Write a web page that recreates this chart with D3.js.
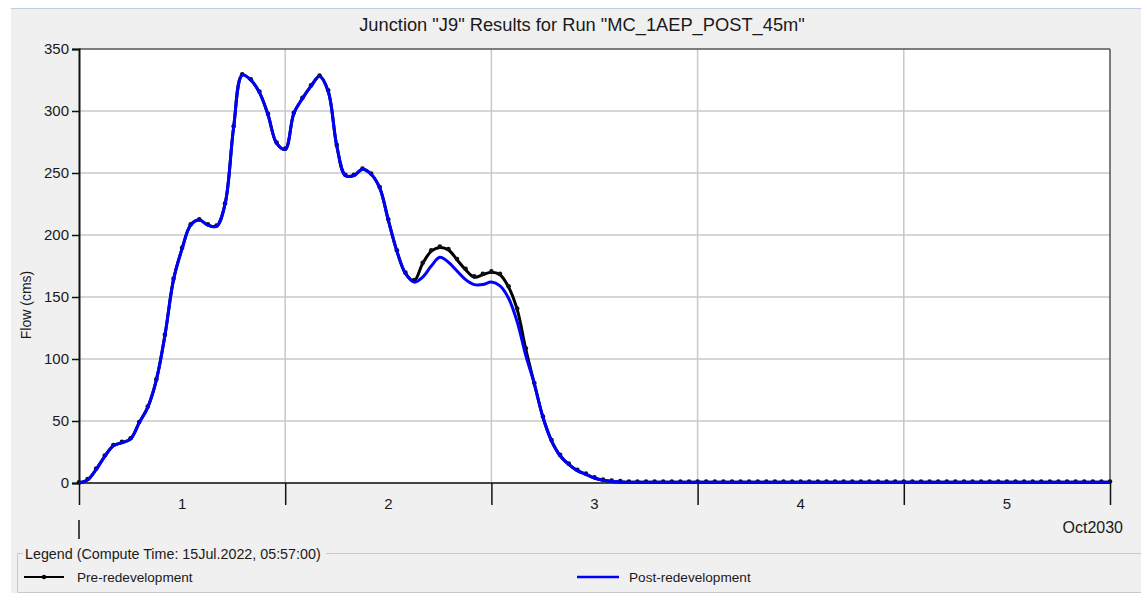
<!DOCTYPE html>
<html><head><meta charset="utf-8">
<script src="https://cdn.jsdelivr.net/npm/d3@7"></script>
<style>
body{margin:0;background:#fff}
svg{display:block}
text{font-family:"Liberation Sans",Arial,sans-serif;fill:#1a1a1a}
</style>
</head><body>
<svg id="c" width="1141" height="593"></svg>
<script>
// ---------- data ----------
const chartTitle = 'Junction "J9" Results for Run "MC_1AEP_POST_45m"';
const yLabel = "Flow (cms)";
const yTicks = [0, 50, 100, 150, 200, 250, 300, 350];
const dayLabels = ["1", "2", "3", "4", "5"];
const dayBoundaries = [0, 24, 48, 72, 96, 120]; // hours
const monthLabel = "Oct2030";
const legendTitle = "Legend (Compute Time: 15Jul.2022, 05:57:00)";
const seriesNames = ["Pre-redevelopment", "Post-redevelopment"];
// hourly flow values (cms), hour 0..120
const preFlow = [
  0, 2.5, 11, 21.5, 30, 32.5, 35.5, 48.5, 61, 83,
  119, 164, 189, 208, 212, 208, 207, 225, 287, 329,
  325, 315, 297, 274, 269, 298, 310, 320, 328, 316,
  272, 248, 248, 253, 249, 238, 212, 187, 169, 163,
  177, 187, 190, 188, 180, 172, 166, 168, 170, 168,
  158, 140, 108, 80, 53, 34, 22, 15, 10, 7,
  4, 2.2, 1.3, 0.9, 0.6, 0.6, 0.6, 0.6, 0.6, 0.6,
  0.6, 0.6, 0.6, 0.6, 0.6, 0.6, 0.6, 0.6, 0.6, 0.6,
  0.6, 0.6, 0.6, 0.6, 0.6, 0.6, 0.6, 0.6, 0.6, 0.6,
  0.6, 0.6, 0.6, 0.6, 0.6, 0.6, 0.6, 0.6, 0.6, 0.6,
  0.6, 0.6, 0.6, 0.6, 0.6, 0.6, 0.6, 0.6, 0.6, 0.6,
  0.6, 0.6, 0.6, 0.6, 0.6, 0.6, 0.6, 0.6, 0.6, 0.6,
  0.6
];
const postFlow = [
  0, 2.5, 11, 21.5, 30, 32.5, 35.5, 48.5, 61, 83,
  119, 164, 189, 208, 212, 208, 207, 225, 287, 329,
  325, 315, 297, 274, 269, 298, 310, 320, 328, 316,
  272, 248, 248, 253, 249, 238, 212, 187, 169, 162,
  166, 175, 182, 178, 171, 164, 160, 160, 162, 159,
  149, 130, 103, 80, 53, 34, 22, 15, 10, 7,
  4, 2.2, 1.3, 0.9, 0.6, 0.6, 0.6, 0.6, 0.6, 0.6,
  0.6, 0.6, 0.6, 0.6, 0.6, 0.6, 0.6, 0.6, 0.6, 0.6,
  0.6, 0.6, 0.6, 0.6, 0.6, 0.6, 0.6, 0.6, 0.6, 0.6,
  0.6, 0.6, 0.6, 0.6, 0.6, 0.6, 0.6, 0.6, 0.6, 0.6,
  0.6, 0.6, 0.6, 0.6, 0.6, 0.6, 0.6, 0.6, 0.6, 0.6,
  0.6, 0.6, 0.6, 0.6, 0.6, 0.6, 0.6, 0.6, 0.6, 0.6,
  0.6
];

// ---------- layout ----------
const svg = d3.select("#c");
const W = 1141, H = 593;
const plot = {left: 79, top: 49, right: 1110, bottom: 483};

svg.append("rect").attr("width", W).attr("height", H).attr("fill", "#ffffff");
svg.append("rect").attr("x", 11).attr("y", 8).attr("width", W - 11).attr("height", H - 8).attr("fill", "#f0f0f0");
svg.append("line").attr("x1", 11).attr("x2", W).attr("y1", 8.5).attr("y2", 8.5).attr("stroke", "#b9d1ea").attr("stroke-width", 1);

const x = d3.scaleLinear().domain([0, 120]).range([plot.left, plot.right]);
const y = d3.scaleLinear().domain([0, 350]).range([plot.bottom, plot.top]);

// plot background
svg.append("rect").attr("x", plot.left).attr("y", plot.top)
  .attr("width", plot.right - plot.left).attr("height", plot.bottom - plot.top).attr("fill", "#fff");

// grid
svg.append("g").selectAll("line").data(yTicks.slice(1, -1)).join("line")
  .attr("x1", plot.left).attr("x2", plot.right)
  .attr("y1", d => y(d)).attr("y2", d => y(d))
  .attr("stroke", "#c8c8c8").attr("stroke-width", 1.5);
svg.append("g").selectAll("line").data(dayBoundaries.slice(1, -1)).join("line")
  .attr("x1", d => x(d)).attr("x2", d => x(d))
  .attr("y1", plot.top).attr("y2", plot.bottom)
  .attr("stroke", "#c8c8c8").attr("stroke-width", 1.5);

// frame
svg.append("line").attr("x1", plot.left).attr("x2", plot.right).attr("y1", plot.top).attr("y2", plot.top)
  .attr("stroke", "#555").attr("stroke-width", 1.5);
svg.append("line").attr("x1", plot.right).attr("x2", plot.right).attr("y1", plot.top).attr("y2", plot.bottom)
  .attr("stroke", "#555").attr("stroke-width", 1.5);

// y axis
const yAxis = d3.axisLeft(y).tickValues(yTicks).tickSize(7).tickPadding(3);
const gy = svg.append("g").attr("transform", `translate(${plot.left},0)`).call(yAxis);
gy.select(".domain").attr("stroke", "#111").attr("stroke-width", 2);
gy.selectAll(".tick line").attr("stroke", "#111").attr("stroke-width", 1.5);
gy.selectAll(".tick text").style("font-size", "15px").style("font-family", '"Liberation Sans",Arial,sans-serif').attr("fill", "#1a1a1a");

// x axis
const xAxis = d3.axisBottom(x).tickValues(dayBoundaries).tickSize(22).tickFormat("");
const gx = svg.append("g").attr("transform", `translate(0,${plot.bottom})`).call(xAxis);
gx.select(".domain").attr("stroke", "#444").attr("stroke-width", 2).attr("d", `M${plot.left},0H${plot.right}`);
gx.selectAll(".tick line").attr("stroke", "#111").attr("stroke-width", 1.5);

svg.append("g").selectAll("text").data(dayLabels).join("text")
  .attr("x", (d, i) => x((dayBoundaries[i] + dayBoundaries[i + 1]) / 2))
  .attr("y", 509).attr("text-anchor", "middle").style("font-size", "15px").text(d => d);

// second row: month
svg.append("line").attr("x1", x(0)).attr("x2", x(0)).attr("y1", 520).attr("y2", 539)
  .attr("stroke", "#111").attr("stroke-width", 1.5);
svg.append("text").attr("x", 1123).attr("y", 533).attr("text-anchor", "end")
  .style("font-size", "16px").text(monthLabel);

// y label
svg.append("text").attr("transform", `translate(31,305) rotate(-90)`)
  .attr("text-anchor", "middle").style("font-size", "14px").text(yLabel);

// title
svg.append("text").attr("x", 582).attr("y", 31).attr("text-anchor", "middle")
  .style("font-size", "18.3px").text(chartTitle);

// series
const line = d3.line().x((d, i) => x(i)).y(d => y(d)).curve(d3.curveCatmullRom.alpha(0.5));
svg.append("path").datum(preFlow).attr("d", line).attr("fill", "none")
  .attr("stroke", "#000").attr("stroke-width", 3);
svg.append("g").selectAll("circle").data(preFlow).join("circle")
  .attr("cx", (d, i) => x(i)).attr("cy", d => y(d) - 0.8).attr("r", 2.3).attr("fill", "#111");
svg.append("path").datum(postFlow).attr("d", line).attr("fill", "none")
  .attr("stroke", "#0000ff").attr("stroke-width", 3);

// legend
const lg = svg.append("g");
lg.append("path").attr("d", "M17.5,592V553.5H23 M326,553.5H1141")
  .attr("fill", "none").attr("stroke", "#c8c8c8").attr("stroke-width", 1);
lg.append("line").attr("x1", 17.5).attr("x2", 1141).attr("y1", 592.5).attr("y2", 592.5).attr("stroke", "#c8c8c8");
lg.append("text").attr("x", 25).attr("y", 559).style("font-size", "14.3px").text(legendTitle);
lg.append("line").attr("x1", 24).attr("x2", 64).attr("y1", 577).attr("y2", 577).attr("stroke", "#000").attr("stroke-width", 2);
lg.append("circle").attr("cx", 44).attr("cy", 577).attr("r", 2.2).attr("fill", "#000");
lg.append("text").attr("x", 77).attr("y", 582).style("font-size", "13.6px").text(seriesNames[0]);
lg.append("line").attr("x1", 577).attr("x2", 619).attr("y1", 577).attr("y2", 577).attr("stroke", "#0000ff").attr("stroke-width", 2.5);
lg.append("text").attr("x", 629).attr("y", 582).style("font-size", "13.6px").text(seriesNames[1]);
</script>
</body></html>
